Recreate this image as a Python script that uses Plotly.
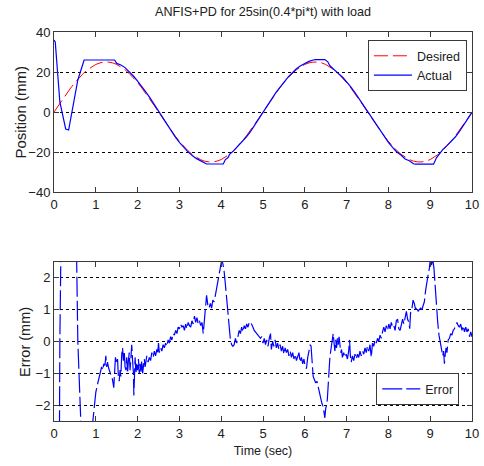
import plotly.graph_objects as go
from plotly.subplots import make_subplots

# ---------------- data ----------------
des_t = [round(i * 0.1, 1) for i in range(101)]
des_v = [0, 3.13, 6.22, 9.20, 12.04, 14.69, 17.11, 19.26, 21.11, 22.62, 23.78, 24.56, 24.95,
         24.95, 24.56, 23.78, 22.62, 21.11, 19.26, 17.11, 14.69, 12.04, 9.20, 6.22, 3.13,
         0, -3.13, -6.22, -9.20, -12.04, -14.69, -17.11, -19.26, -21.11, -22.62, -23.78, -24.56, -24.95,
         -24.95, -24.56, -23.78, -22.62, -21.11, -19.26, -17.11, -14.69, -12.04, -9.20, -6.22, -3.13,
         0, 3.13, 6.22, 9.20, 12.04, 14.69, 17.11, 19.26, 21.11, 22.62, 23.78, 24.56, 24.95,
         24.95, 24.56, 23.78, 22.62, 21.11, 19.26, 17.11, 14.69, 12.04, 9.20, 6.22, 3.13,
         0, -3.13, -6.22, -9.20, -12.04, -14.69, -17.11, -19.26, -21.11, -22.62, -23.78, -24.56, -24.95,
         -24.95, -24.56, -23.78, -22.62, -21.11, -19.26, -17.11, -14.69, -12.04, -9.20, -6.22, -3.13,
         0]

act_t = [0, 0.03, 0.14, 0.28, 0.35, 0.57, 0.72, 1.45, 1.5, 1.6, 1.7, 1.8, 1.9, 2.0, 2.1, 2.2, 2.3,
         2.4, 2.5, 2.6, 2.7, 2.8, 2.9, 3.0, 3.1, 3.2, 3.3, 3.4, 3.5, 3.6, 3.65, 4.05, 4.1, 4.16,
         4.2, 4.3, 4.4, 4.5, 4.6, 4.7, 4.8, 4.9, 5.0, 5.1, 5.2, 5.3, 5.4, 5.5, 5.6, 5.7, 5.8,
         5.9, 6.0, 6.1, 6.2, 6.25, 6.48, 6.55, 6.6, 6.7, 6.8, 6.9, 7.0, 7.1, 7.2, 7.3, 7.4, 7.5,
         7.6, 7.7, 7.8, 7.9, 8.0, 8.1, 8.2, 8.3, 8.4, 8.5, 8.6, 8.65, 9.08, 9.15, 9.23, 9.3,
         9.4, 9.5, 9.6, 9.7, 9.8, 9.9, 10.0]
act_v = [36, 35, 5, -8.5, -9, 16, 26, 26, 24.3, 23.5, 22.2, 20.3, 18.0, 15.4, 12.8, 9.9, 6.9,
         3.6, 0.2, -3.1, -6.4, -9.5, -12.4, -15.2, -17.6, -19.8, -21.6, -23.2, -24.3, -25.2, -26,
         -26, -23.8, -22.9, -21.2, -19.3, -17.2, -14.9, -12.5, -9.8, -6.6, -3.3, 0.1, 3.1, 6.3,
         9.4, 12.2, 14.9, 17.4, 19.5, 21.6, 23.1, 24.4, 25.3, 26.0, 26.2, 26.2, 25.1, 23.1, 21.0,
         19.3, 17.5, 15.1, 12.6, 9.7, 6.6, 3.4, 0.1, -3.1, -6.2, -9.4, -12.5, -15.2, -17.7,
         -20.0, -21.5, -23.5, -24.4, -25.9, -26.1, -26.1, -22.9, -20.8, -18.8, -16.8, -14.9,
         -12.5, -9.7, -6.6, -3.5, -0.2]

err_t = [0.00, 0.03, 0.14, 0.30, 0.35, 0.57, 0.72, 0.82, 0.93, 0.97, 1.00, 1.04, 1.08, 1.11, 1.14,
         1.17, 1.19, 1.22, 1.24, 1.26, 1.28, 1.31, 1.34, 1.37, 1.40, 1.43, 1.45, 1.47, 1.50, 1.52,
         1.54, 1.56, 1.58, 1.60, 1.62, 1.64, 1.66, 1.68, 1.70, 1.72, 1.74, 1.76, 1.78, 1.80, 1.82,
         1.84, 1.86, 1.88, 1.90, 1.91, 1.92, 1.94, 1.96, 1.98, 2.00, 2.02, 2.04, 2.06, 2.08, 2.10,
         2.12, 2.14, 2.16, 2.18, 2.20, 2.22, 2.25, 2.28, 2.31, 2.34, 2.37, 2.40, 2.43, 2.46, 2.48,
         2.50, 2.52, 2.55, 2.58, 2.61, 2.64, 2.67, 2.70, 2.73, 2.76, 2.79, 2.82, 2.85, 2.88, 2.91,
         2.94, 2.97, 3.00, 3.03, 3.06, 3.09, 3.12, 3.15, 3.18, 3.21, 3.24, 3.27, 3.30, 3.33, 3.36,
         3.39, 3.42, 3.45, 3.48, 3.51, 3.54, 3.57, 3.60, 3.62, 3.65, 3.68, 3.71, 3.74, 3.77, 3.80,
         3.83, 3.86, 3.89, 3.92, 3.95, 3.98, 4.01, 4.04, 4.07, 4.10, 4.13, 4.16, 4.19, 4.22, 4.25,
         4.28, 4.31, 4.34, 4.37, 4.40, 4.43, 4.46, 4.49, 4.52, 4.55, 4.58, 4.61, 4.64, 4.67, 4.70,
         4.73, 4.76, 4.79, 4.82, 4.85, 4.88, 4.91, 4.94, 4.97, 5.00, 5.03, 5.06, 5.09, 5.12, 5.15,
         5.18, 5.20, 5.23, 5.26, 5.29, 5.32, 5.35, 5.38, 5.41, 5.44, 5.47, 5.50, 5.53, 5.56, 5.59,
         5.62, 5.65, 5.68, 5.71, 5.74, 5.77, 5.80, 5.83, 5.86, 5.89, 5.92, 5.95, 5.98, 6.01, 6.04,
         6.07, 6.10, 6.13, 6.15, 6.17, 6.20, 6.23, 6.26, 6.29, 6.32, 6.35, 6.38, 6.41, 6.44, 6.46,
         6.48, 6.50, 6.52, 6.54, 6.56, 6.58, 6.60, 6.62, 6.64, 6.66, 6.68, 6.70, 6.72, 6.74, 6.76,
         6.78, 6.80, 6.82, 6.84, 6.86, 6.88, 6.90, 6.93, 6.96, 6.99, 7.02, 7.05, 7.07, 7.09, 7.11,
         7.14, 7.17, 7.20, 7.23, 7.26, 7.29, 7.32, 7.35, 7.38, 7.41, 7.44, 7.47, 7.50, 7.53, 7.56,
         7.59, 7.62, 7.65, 7.68, 7.71, 7.74, 7.77, 7.80, 7.83, 7.86, 7.89, 7.92, 7.95, 7.98, 8.01,
         8.04, 8.07, 8.10, 8.13, 8.16, 8.19, 8.22, 8.25, 8.28, 8.31, 8.34, 8.37, 8.40, 8.43, 8.46,
         8.49, 8.51, 8.53, 8.56, 8.59, 8.62, 8.65, 8.68, 8.71, 8.74, 8.77, 8.80, 8.83, 8.86, 8.89,
         8.92, 8.95, 8.98, 9.00, 9.03, 9.06, 9.09, 9.12, 9.15, 9.18, 9.21, 9.24, 9.27, 9.30, 9.32,
         9.34, 9.36, 9.38, 9.40, 9.43, 9.46, 9.49, 9.52, 9.55, 9.58, 9.61, 9.64, 9.67, 9.70, 9.73,
         9.76, 9.79, 9.82, 9.85, 9.88, 9.91, 9.94, 9.97, 10.00]
err_v = [-36, -34, 0, 18, 20, 0, -5.3, -4.5, -2.5, -1.9, -1.6, -1.35, -1.1, -0.95, -0.8,
         -0.9, -0.7, -0.75, -0.45, -0.8, -0.65, -0.85, -0.95, -1.05, -1.2, -1.45, -1.0, -0.5, -0.7, -0.55,
         -1.1, -1.25, -0.9, -1.1, -0.4, -0.2, -0.6, -0.3, -0.8, -0.9, -0.5, -1.0, -0.6, -0.35, -0.9,
         -0.4, -0.1, -0.6, -1.0, -1.7, -0.9, -0.5, -1.0, -0.7, -0.9, -0.55, -1.0, -0.7, -0.95, -0.6,
         -1.0, -0.7, -0.55, -0.8, -0.6, -0.45, -0.65, -0.5, -0.6, -0.35, -0.5, -0.3, -0.45, -0.25, -0.4,
         -0.05, -0.35, -0.2, -0.3, -0.1, -0.2, -0.05, -0.15, 0.05, -0.05, 0.15, 0.05, 0.25, 0.2, 0.35,
         0.25, 0.45, 0.4, 0.55, 0.45, 0.5, 0.35, 0.55, 0.4, 0.6, 0.5, 0.45, 0.65, 0.55, 0.8,
         0.6, 0.75, 0.55, 0.65, 0.5, 0.6, 0.25, 0.7, 1.0, 1.45, 1.15, 1.05, 1.2, 1.05, 1.3,
         1.25, 1.45, 1.7, 1.95, 2.15, 2.35, 2.55, 2.45, 2.2, 1.8, 1.4, 1.0, 0.4, 0.05, -0.1,
         -0.15, -0.1, 0.1, -0.05, 0.2, 0.35, 0.25, 0.45, 0.3, 0.5, 0.4, 0.55, 0.45, 0.6, 0.62,
         0.5, 0.45, 0.35, 0.3, 0.25, 0.2, 0.15, 0.1, 0.15, -0.05, 0.1, -0.1, 0.05, -0.15, 0.1,
         0.25, -0.25, 0.0, -0.15, 0.05, -0.2, -0.05, -0.25, -0.1, -0.3, -0.15, -0.4, -0.2, -0.35, -0.25,
         -0.45, -0.3, -0.5, -0.35, -0.55, -0.4, -0.6, -0.45, -0.35, -0.65, -0.5, -0.7, -0.55, -0.8, -0.85,
         -0.5, -0.3, -0.1, -0.15, -0.6, -1.1, -1.2, -1.3, -1.25, -1.45, -1.6, -1.8, -1.95, -2.05, -2.2,
         -2.4, -2.1, -2.0, -1.8, -1.3, -0.8, -0.5, -0.3, -0.1, 0.1, 0.25, -0.05, -0.3, 0.05, -0.2,
         0.1, -0.1, 0.15, -0.05, -0.35, -0.25, -0.5, -0.35, -0.5, -0.4, -0.55, -0.3, 0.05, -0.45, -0.65,
         -0.45, -0.6, -0.4, -0.55, -0.4, -0.5, -0.3, -0.45, -0.3, -0.4, -0.2, -0.35, -0.15, -0.3, -0.1,
         -0.5, -0.05, -0.15, 0.05, -0.05, 0.1, 0.0, 0.2, 0.1, 0.3, 0.45, 0.3, 0.5, 0.35, 0.55,
         0.4, 0.6, 0.45, 0.5, 0.35, 0.65, 0.7, 0.4, 0.35, 0.6, 0.7, 0.55, 0.8, 0.95, 0.7,
         0.6, 0.4, 0.9, 1.0, 1.3, 1.2, 1.0, 1.1, 0.95, 1.0, 1.05, 1.0, 1.1, 1.25, 1.6,
         1.95, 2.1, 2.3, 2.55, 2.4, 2.6, 2.3, 1.6, 1.0, 0.6, 0.2, 0.0, -0.3, -0.45, -0.3,
         -0.7, -0.4, -0.2, -0.35, 0.05, 0.1, 0.25, 0.2, 0.35, 0.4, 0.5, 0.6, 0.5, 0.45, 0.55,
         0.35, 0.5, 0.3, 0.45, 0.3, 0.4, 0.15, 0.3, 0.15]

x_ticks = [0, 1, 2, 3, 4, 5, 6, 7, 8, 9, 10]
pos_ticks = [-40, -20, 0, 20, 40]
err_ticks = [-2, -1, 0, 1, 2]

title_text = "ANFIS+PD for 25sin(0.4*pi*t) with load"

# ---------------- figure ----------------
FONT = "Liberation Sans, Arial, sans-serif"
AX = "#3a3a3a"
TXT = "#202020"

fig = make_subplots(rows=2, cols=1)

fig.add_trace(go.Scatter(x=des_t, y=des_v, mode="lines", name="Desired",
                         line=dict(color="#ff0000", width=1, dash="14px,5px"),
                         legend="legend"), row=1, col=1)
fig.add_trace(go.Scatter(x=act_t, y=act_v, mode="lines", name="Actual",
                         line=dict(color="#0000ff", width=1.2),
                         legend="legend"), row=1, col=1)
fig.add_trace(go.Scatter(x=err_t, y=err_v, mode="lines", name="Error",
                         line=dict(color="#0000ff", width=1.2, dash="20px,4px"),
                         legend="legend2"), row=2, col=1)

common_x = dict(range=[0, 10], tickvals=x_ticks, ticks="inside", ticklen=5, tickcolor=AX,
                showline=True, linecolor=AX, linewidth=1, mirror="ticks", showgrid=False,
                zeroline=False, ticklabeloverflow="allow",
                tickfont=dict(family=FONT, size=13, color=TXT))
fig.update_xaxes(**common_x)
fig.update_xaxes(row=2, col=1, title=dict(text="Time (sec)", standoff=6,
                                          font=dict(family=FONT, size=12.5, color=TXT)))

common_y = dict(ticks="inside", ticklen=5, tickcolor=AX, showline=True, linecolor=AX,
                linewidth=1, mirror="ticks", showgrid=True, gridcolor="#000000",
                griddash="3px,3px", gridwidth=1, zeroline=False,
                tickfont=dict(family=FONT, size=13, color=TXT))
fig.update_yaxes(**common_y)
fig.update_yaxes(row=1, col=1, range=[-40, 40], tickvals=pos_ticks)
fig.update_yaxes(row=2, col=1, range=[-2.5, 2.5], tickvals=err_ticks)

fig.update_layout(
    width=484, height=466,
    margin=dict(l=54, r=5, t=32, b=45),
    paper_bgcolor="white", plot_bgcolor="white",
    title=dict(text=title_text, x=0.5, xref="paper", xanchor="center", y=0.975, yanchor="middle",
               font=dict(family=FONT, size=12.6, color=TXT)),
    xaxis=dict(domain=[0, 1]),
    xaxis2=dict(domain=[0, 1]),
    yaxis=dict(domain=[0.5887, 1]),
    yaxis2=dict(domain=[0, 0.4087]),
    legend=dict(x=0.751, y=0.979, xanchor="left", yanchor="top", bgcolor="white",
                bordercolor=AX, borderwidth=1, font=dict(family=FONT, size=12.5, color=TXT),
                itemwidth=38, tracegroupgap=0),
    legend2=dict(x=0.771, y=0.123, xanchor="left", yanchor="top", bgcolor="white",
                 bordercolor=AX, borderwidth=1, font=dict(family=FONT, size=12.5, color=TXT),
                 itemwidth=38),
    showlegend=True,
    annotations=[
        dict(text="Position (mm)", xref="paper", yref="paper", x=(19 - 54) / 425,
             y=(421 - 112) / 389, xanchor="center", yanchor="middle", textangle=-90,
             showarrow=False, font=dict(family=FONT, size=15, color=TXT)),
        dict(text="Error (mm)", xref="paper", yref="paper", x=(24 - 54) / 425,
             y=(421 - 341.5) / 389, xanchor="center", yanchor="middle", textangle=-90,
             showarrow=False, font=dict(family=FONT, size=14.5, color=TXT)),
    ],
)

fig.write_html("out.html")
